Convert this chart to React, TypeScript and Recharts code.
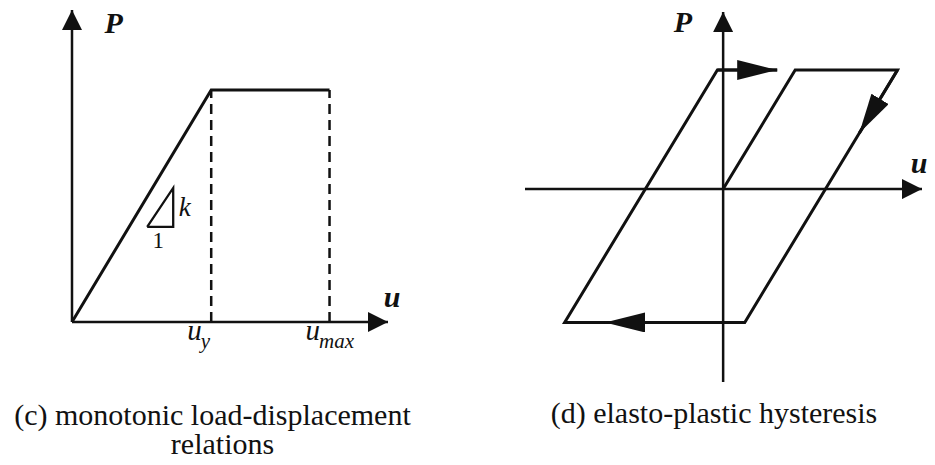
import React from "react";
import {
  ComposedChart,
  Line,
  XAxis,
  YAxis,
  ReferenceLine,
  ReferenceDot,
} from "recharts";

// (c) monotonic curve: elastic up to u_y, then flat to u_max
const yieldDisp = 1;
const maxDisp = 1.85;
const yieldLoad = 1;
const monotonic = [
  { u: 0, P: 0 },
  { u: yieldDisp, P: yieldLoad },
  { u: maxDisp, P: yieldLoad },
];
const slopeTriangle = [
  { u: 0.54, P: 0.41 },
  { u: 0.727, P: 0.41 },
  { u: 0.727, P: 0.578 },
  { u: 0.54, P: 0.41 },
];
const monoTicks = [
  { value: yieldDisp, sub: "y" },
  { value: maxDisp, sub: "max" },
];
const monoExtent = { u: 2.27, P: 1.345 };

// (d) elasto-plastic loop, traced in loading order
const hysteresis = [
  { u: 0, P: 0 },
  { u: 1, P: 1 },
  { u: 2.42, P: 1 },
  { u: 0.3, P: -1.12 },
  { u: -2.2, P: -1.12 },
  { u: -0.08, P: 1 },
  { u: 0.75, P: 1 },
];
const loopArrows = [
  { from: { u: -0.08, P: 1 }, to: { u: 0.75, P: 1 } },
  { from: { u: 2.42, P: 1 }, to: { u: 1.89, P: 0.47 } },
  { from: { u: 0.3, P: -1.12 }, to: { u: -1.64, P: -1.12 } },
];
const loopExtent = { uMin: -2.75, uMax: 2.76, PMin: -1.62, PMax: 1.487 };

const INK = "#111";
const SERIF = '"Liberation Serif", "Times New Roman", serif';

const Heads = ({ prefix }: { prefix: string }) => (
  <defs>
    <marker
      id={`${prefix}-axis`}
      viewBox="0 0 20 20"
      refX={20}
      refY={10}
      markerWidth={20}
      markerHeight={20}
      markerUnits="userSpaceOnUse"
      orient="auto"
    >
      <path d="M0,0 L20,10 L0,20 Z" fill={INK} />
    </marker>
    <marker
      id={`${prefix}-flow`}
      viewBox="0 0 40 20"
      refX={40}
      refY={10}
      markerWidth={40}
      markerHeight={20}
      markerUnits="userSpaceOnUse"
      orient="auto"
    >
      <path d="M0,0 L40,10 L0,20 Z" fill={INK} />
    </marker>
  </defs>
);

const textDot = (text: string, style: React.CSSProperties) => (p: any) =>
  (
    <text
      x={p.cx}
      y={p.cy}
      textAnchor="middle"
      dominantBaseline="central"
      fill={INK}
      style={{ fontFamily: SERIF, ...style }}
    >
      {text}
    </text>
  );

const axisName = { fontSize: 30, fontWeight: 700, fontStyle: "italic" as const };

// u with subscript, placed so the "u" sits just left of the tick
const DispTick = (props: any) => {
  const { x, y, payload } = props;
  const t = monoTicks.find((m) => m.value === payload.value);
  return (
    <text
      x={x - 24}
      y={y + 18}
      fill={INK}
      style={{ fontFamily: SERIF, fontStyle: "italic" }}
    >
      <tspan fontSize={29}>u</tspan>
      <tspan fontSize={21} dy={8} dx={-1}>
        {t ? t.sub : ""}
      </tspan>
    </text>
  );
};

function MonotonicChart() {
  return (
    <ComposedChart
      width={460}
      height={365}
      margin={{ top: 10, right: 72, left: 72, bottom: 0 }}
    >
      <Heads prefix="c" />
      <XAxis
        type="number"
        dataKey="u"
        domain={[0, monoExtent.u]}
        ticks={monoTicks.map((t) => t.value)}
        axisLine={false}
        tickLine={false}
        tickSize={0}
        tickMargin={0}
        height={43}
        tick={<DispTick />}
      />
      <YAxis type="number" dataKey="P" domain={[0, monoExtent.P]} hide width={0} />
      <ReferenceLine
        segment={[{ x: 0, y: 0 }, { x: monoExtent.u, y: 0 }]}
        stroke={INK}
        strokeWidth={2.5}
        markerEnd="url(#c-axis)"
        ifOverflow="visible"
      />
      <ReferenceLine
        segment={[{ x: 0, y: 0 }, { x: 0, y: monoExtent.P }]}
        stroke={INK}
        strokeWidth={2.5}
        markerEnd="url(#c-axis)"
        ifOverflow="visible"
      />
      {monoTicks.map((t) => (
        <ReferenceLine
          key={t.sub}
          segment={[{ x: t.value, y: 0 }, { x: t.value, y: yieldLoad }]}
          stroke={INK}
          strokeWidth={2.5}
          strokeDasharray="10 6"
          ifOverflow="visible"
        />
      ))}
      <Line
        data={monotonic}
        dataKey="P"
        type="linear"
        stroke={INK}
        strokeWidth={3}
        dot={false}
        activeDot={false}
        isAnimationActive={false}
      />
      <Line
        data={slopeTriangle}
        dataKey="P"
        type="linear"
        stroke={INK}
        strokeWidth={2.3}
        dot={false}
        activeDot={false}
        isAnimationActive={false}
      />
      <ReferenceDot x={0.3} y={1.293} r={0} ifOverflow="visible" shape={textDot("P", axisName)} />
      <ReferenceDot x={2.3} y={0.112} r={0} ifOverflow="visible" shape={textDot("u", axisName)} />
      <ReferenceDot
        x={0.81}
        y={0.496}
        r={0}
        ifOverflow="visible"
        shape={textDot("k", { fontSize: 27, fontStyle: "italic" })}
      />
      <ReferenceDot x={0.62} y={0.353} r={0} ifOverflow="visible" shape={textDot("1", { fontSize: 23 })} />
    </ComposedChart>
  );
}

function HysteresisChart() {
  return (
    <ComposedChart
      width={435}
      height={400}
      margin={{ top: 12, right: 13, left: 25, bottom: 18 }}
    >
      <Heads prefix="d" />
      <XAxis
        type="number"
        dataKey="u"
        domain={[loopExtent.uMin, loopExtent.uMax]}
        hide
        height={0}
      />
      <YAxis
        type="number"
        dataKey="P"
        domain={[loopExtent.PMin, loopExtent.PMax]}
        hide
        width={0}
      />
      <ReferenceLine
        segment={[{ x: loopExtent.uMin, y: 0 }, { x: loopExtent.uMax, y: 0 }]}
        stroke={INK}
        strokeWidth={2.5}
        markerEnd="url(#d-axis)"
        ifOverflow="visible"
      />
      <ReferenceLine
        segment={[{ x: 0, y: loopExtent.PMin }, { x: 0, y: loopExtent.PMax }]}
        stroke={INK}
        strokeWidth={2.5}
        markerEnd="url(#d-axis)"
        ifOverflow="visible"
      />
      <Line
        data={hysteresis}
        dataKey="P"
        type="linear"
        stroke={INK}
        strokeWidth={3}
        dot={false}
        activeDot={false}
        isAnimationActive={false}
      />
      {loopArrows.map((a, i) => (
        <ReferenceLine
          key={i}
          segment={[{ x: a.from.u, y: a.from.P }, { x: a.to.u, y: a.to.P }]}
          stroke={INK}
          strokeWidth={3}
          markerEnd="url(#d-flow)"
          ifOverflow="visible"
        />
      ))}
      <ReferenceDot x={-0.56} y={1.41} r={0} ifOverflow="visible" shape={textDot("P", axisName)} />
      <ReferenceDot x={2.72} y={0.227} r={0} ifOverflow="visible" shape={textDot("u", axisName)} />
    </ComposedChart>
  );
}

const caption: React.CSSProperties = {
  position: "absolute",
  fontFamily: SERIF,
  fontSize: 30,
  lineHeight: "26px",
  color: INK,
  textAlign: "center",
  whiteSpace: "nowrap",
};

export default function App() {
  return (
    <div style={{ position: "relative", width: 935, height: 465, background: "#fff" }}>
      <style>{`body{margin:0}`}</style>
      <div style={{ position: "absolute", left: 0, top: 0 }}>
        <MonotonicChart />
      </div>
      <div style={{ position: "absolute", left: 500, top: 0 }}>
        <HysteresisChart />
      </div>
      <div style={{ ...caption, left: 0, width: 425, top: 402 }}>
        (c) monotonic load-displacement
      </div>
      <div style={{ ...caption, left: 0, width: 445, top: 431 }}>relations</div>
      <div style={{ ...caption, left: 500, width: 428, top: 400 }}>
        (d) elasto-plastic hysteresis
      </div>
    </div>
  );
}
